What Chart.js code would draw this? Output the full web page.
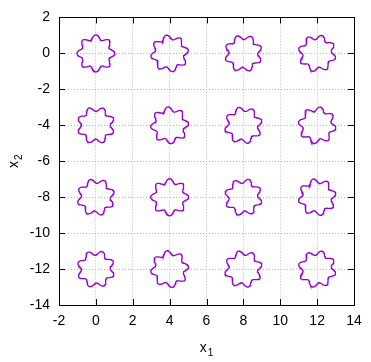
<!DOCTYPE html>
<html>
<head>
<meta charset="utf-8">
<script src="https://cdn.jsdelivr.net/npm/chart.js@4"></script>
<style>
html,body{margin:0;padding:0;background:#fff;}
#wrap{width:371px;height:362px;}
</style>
</head>
<body>
<div id="wrap"><canvas id="c" width="371" height="362"></canvas></div>
<script>
// Star centres (grid of 4x4)
const centerX = [0, 4, 8, 12];
const centerY = [0, -4, -8, -12];
// Star shape: mean radius, lobe amplitude, lobe count
const meanRadius = 0.9;
const lobeAmplitude = 0.13;
const lobeCount = 8;
// Rotation of each star (degrees), row by row (y = 0, -4, -8, -12)
const phasesDeg = [
  [0, 10, 20, 30],
  [22, 5, 15, 35],
  [18, 0, 28, 12],
  [25, 8, 15, 30]
];
const xTicks = [-2, 0, 2, 4, 6, 8, 10, 12, 14];
const yTicks = [2, 0, -2, -4, -6, -8, -10, -12, -14];
const xTitle = ['x', '1'];
const yTitle = ['x', '2'];
const lineColor = '#9400d3';

const datasets = [];
centerY.forEach((cy, r) => {
  centerX.forEach((cx, c) => {
    const ph = phasesDeg[r][c] * Math.PI / 180;
    const pts = [];
    const N = 240;
    for (let i = 0; i <= N; i++) {
      const t = i / N * 2 * Math.PI;
      const rad = meanRadius + lobeAmplitude * Math.cos(lobeCount * (t - ph));
      pts.push({x: cx + rad * Math.cos(t), y: cy + rad * Math.sin(t)});
    }
    datasets.push({data: pts, showLine: true, borderColor: lineColor, borderWidth: 1.3,
      pointRadius: 0, fill: false, tension: 0});
  });
});

const fam = "'Liberation Sans', Arial, sans-serif";
const font = {family: fam, size: 14};

function drawSub(ctx, main, sub) {
  ctx.font = '14px ' + fam;
  const w1 = ctx.measureText(main).width;
  ctx.font = '10px ' + fam;
  const w2 = ctx.measureText(sub).width;
  const start = -(w1 + w2 + 1) / 2;
  ctx.textAlign = 'left';
  ctx.textBaseline = 'alphabetic';
  ctx.font = '14px ' + fam;
  ctx.fillText(main, start, 0);
  ctx.font = '10px ' + fam;
  ctx.fillText(sub, start + w1 + 1, 4);
}

const innerTicks = {
  id: 'innerTicks',
  afterDraw(chart) {
    const ctx = chart.ctx, a = chart.chartArea;
    const xs = chart.scales.x, ys = chart.scales.y;
    ctx.save();
    ctx.strokeStyle = '#000';
    ctx.lineWidth = 1;
    ctx.beginPath();
    xTicks.forEach(v => {
      const p = Math.round(xs.getPixelForValue(v)) + 0.5;
      ctx.moveTo(p, a.bottom); ctx.lineTo(p, a.bottom - 6);
      ctx.moveTo(p, a.top); ctx.lineTo(p, a.top + 6);
    });
    yTicks.forEach(v => {
      const p = Math.round(ys.getPixelForValue(v)) + 0.5;
      ctx.moveTo(a.left, p); ctx.lineTo(a.left + 6, p);
      ctx.moveTo(a.right, p); ctx.lineTo(a.right - 6, p);
    });
    ctx.stroke();
    ctx.strokeRect(Math.round(a.left) + 0.5, Math.round(a.top) + 0.5,
      Math.round(a.right - a.left), Math.round(a.bottom - a.top));
    // axis titles with subscripts
    ctx.fillStyle = '#000';
    ctx.save();
    ctx.translate((a.left + a.right) / 2, 352);
    drawSub(ctx, xTitle[0], xTitle[1]);
    ctx.restore();
    ctx.save();
    ctx.translate(18, (a.top + a.bottom) / 2);
    ctx.rotate(-Math.PI / 2);
    drawSub(ctx, yTitle[0], yTitle[1]);
    ctx.restore();
    ctx.restore();
  }
};

new Chart(document.getElementById('c'), {
  type: 'scatter',
  data: {datasets},
  options: {
    responsive: false,
    animation: false,
    layout: {padding: {top: 12, right: 17, left: 0, bottom: 0}},
    plugins: {legend: {display: false}, tooltip: {enabled: false}},
    scales: {
      x: {
        type: 'linear', min: -2, max: 14,
        afterBuildTicks: s => { s.ticks = xTicks.map(v => ({value: v})); },
        afterFit: s => { s.height = 57; },
        grid: {color: '#b8b8b8', lineWidth: 1, drawTicks: false},
        border: {display: false, dash: [1, 2]},
        ticks: {color: '#000', font, padding: 8, maxRotation: 0, autoSkip: false},
        title: {display: false}
      },
      y: {
        type: 'linear', min: -14, max: 2,
        afterBuildTicks: s => { s.ticks = yTicks.map(v => ({value: v})); },
        afterFit: s => { s.width = 59; },
        grid: {color: '#b8b8b8', lineWidth: 1, drawTicks: false},
        border: {display: false, dash: [1, 2]},
        ticks: {color: '#000', font, padding: 9, autoSkip: false},
        title: {display: false}
      }
    }
  },
  plugins: [innerTicks]
});
</script>
</body>
</html>
